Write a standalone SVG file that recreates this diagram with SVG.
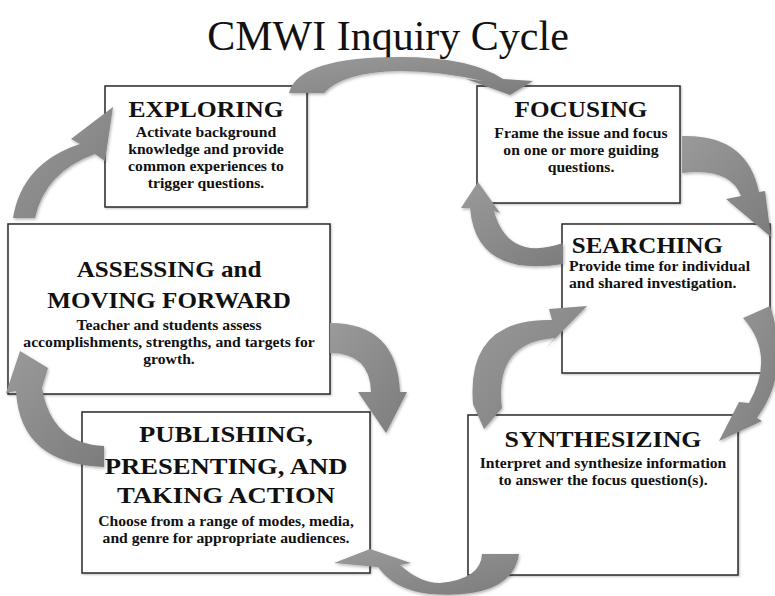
<svg xmlns="http://www.w3.org/2000/svg" width="775" height="596" viewBox="0 0 775 596">
<defs>
<style>
.box{fill:#fff;stroke:#2a2a2a;stroke-width:1.5;filter:url(#sh)}
.hd{font-family:"Liberation Serif","Times New Roman",serif;font-weight:bold;fill:#111;text-anchor:middle}
.bd{font-family:"Liberation Serif","Times New Roman",serif;font-weight:bold;fill:#111;text-anchor:middle;font-size:14px}
.arr{fill:url(#ag);filter:url(#ash)}
</style>
<linearGradient id="ag" x1="0" y1="0" x2="1" y2="1">
<stop offset="0" stop-color="#9a9a9a"/>
<stop offset="1" stop-color="#7c7c7c"/>
</linearGradient>
<filter id="sh" x="-10%" y="-10%" width="120%" height="120%">
<feDropShadow dx="1" dy="1" stdDeviation="1.2" flood-color="#000" flood-opacity="0.25"/>
</filter>
<filter id="ash" x="-20%" y="-20%" width="140%" height="140%">
<feDropShadow dx="1" dy="1.5" stdDeviation="1.5" flood-color="#000" flood-opacity="0.3"/>
</filter>
</defs>
<rect width="775" height="596" fill="#fff"/>
<text x="388" y="50" style="font-family:'Liberation Serif','Times New Roman',serif;font-size:42px;fill:#111;text-anchor:middle">CMWI Inquiry Cycle</text>

<g id="exploring">
<rect class="box" x="105" y="86" width="202" height="121"/>
<g transform="translate(206 0) scale(1.12 1)">
<text class="hd" x="0" y="117" font-size="22.9">EXPLORING</text>
<text class="bd" x="0" y="137">Activate background</text>
<text class="bd" x="0" y="154">knowledge and provide</text>
<text class="bd" x="0" y="171">common experiences to</text>
<text class="bd" x="0" y="188">trigger questions.</text>
</g>
</g>

<g id="focusing">
<rect class="box" x="477" y="86" width="203" height="117"/>
<g transform="translate(581 0) scale(1.12 1)">
<text class="hd" x="0" y="117" font-size="22.5">FOCUSING</text>
<text class="bd" x="0" y="138">Frame the issue and focus</text>
<text class="bd" x="0" y="155">on one or more guiding</text>
<text class="bd" x="0" y="172">questions.</text>
</g>
</g>

<g id="searching">
<rect class="box" x="562" y="224" width="208" height="149"/>
<g transform="translate(569 0) scale(1.12 1)">
<text class="hd" x="2.5" y="253" font-size="22.3" style="text-anchor:start">SEARCHING</text>
<text class="bd" x="0" y="271" style="text-anchor:start">Provide time for individual</text>
<text class="bd" x="0" y="288" style="text-anchor:start">and shared investigation.</text>
</g>
</g>

<g id="assessing">
<rect class="box" x="8" y="224" width="322" height="170"/>
<g transform="translate(169 0) scale(1.12 1)">
<text class="hd" x="0" y="277" font-size="22.4">ASSESSING and</text>
<text class="hd" x="0" y="308" font-size="22.4">MOVING FORWARD</text>
<text class="bd" x="0" y="330">Teacher and students assess</text>
<text class="bd" x="0" y="347">accomplishments, strengths, and targets for</text>
<text class="bd" x="0" y="364">growth.</text>
</g>
</g>

<g id="publishing">
<rect class="box" x="82" y="412" width="288" height="161"/>
<g transform="translate(226 0) scale(1.12 1)">
<text class="hd" x="0" y="442" font-size="23.8">PUBLISHING,</text>
<text class="hd" x="0" y="474" font-size="23.8">PRESENTING, AND</text>
<text class="hd" x="0" y="503" font-size="23.8">TAKING ACTION</text>
<text class="bd" x="0" y="526">Choose from a range of modes, media,</text>
<text class="bd" x="0" y="543">and genre for appropriate audiences.</text>
</g>
</g>

<g id="synthesizing">
<rect class="box" x="468" y="415" width="270" height="160"/>
<g transform="translate(603 0) scale(1.12 1)">
<text class="hd" x="0" y="447" font-size="23.1">SYNTHESIZING</text>
<text class="bd" x="0" y="468">Interpret and synthesize information</text>
<text class="bd" x="0" y="485">to answer the focus question(s).</text>
</g>
</g>

<g id="connectors">
<path class="arr" d="M289 93 Q298 57 400 57 Q470 57 503 79 L533 81 L510 95 L466 79 L483 81 Q440 71 400 71 Q343 72 324 93 Z"/>
<path class="arr" d="M682 136 Q747 134 759 192 L765 191 L771 237 L726 199 L741 196 Q730 167 682 173 Z"/>
<path class="arr" d="M563 243 Q508 262 494 211 L500 213 L478 182 L461 208 L470 208 Q476 278 563 264 Z"/>
<path class="arr" d="M743 318 Q776 355 749 403 L739 402 L719 441 L762 421 L757 418 Q792 370 770 306 Z"/>
<path class="arr" d="M473 404 Q466 318 552 320 L549 309 L587 306 L545 349 L555 338 Q494 342 502 408 L484 429 Z"/>
<path class="arr" d="M519 554 Q512 600 430 594 Q394 590 378 567 L334 563 L370 549 L411 563 L400 565 Q420 583 440 583 Q481 579 482 554 Z"/>
<path class="arr" d="M330 323 Q397 323 400 392 L407 392 L386 433 L358 392 L371 392 Q370 353 330 353 Z"/>
<path class="arr" d="M104 446 Q52 444 42 388 L48 368 L20 351 L6 393 L16 391 Q20 464 104 467 Z"/>
<path class="arr" d="M13 218 Q22 163 80 144 L71 139 L113 107 L105 161 L95 154 Q45 172 35 218 Z"/>
</g>
</svg>
